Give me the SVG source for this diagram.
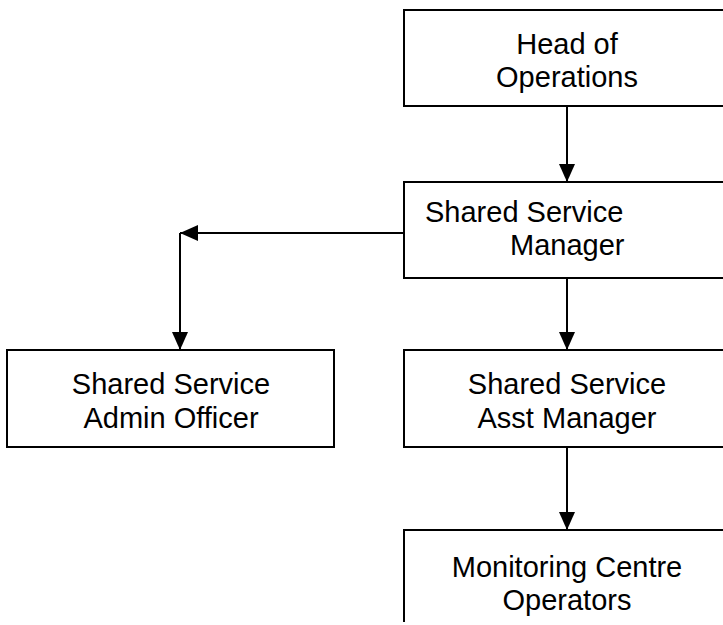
<svg xmlns="http://www.w3.org/2000/svg" width="723" height="625" viewBox="0 0 723 625">
  <style>
    .box { fill: #ffffff; stroke: #000000; stroke-width: 2; }
    .lbl { font-family: "Liberation Sans", Arial, sans-serif; font-size: 29px; fill: #000000; }
    .mid { text-anchor: middle; }
    .wire { fill: none; stroke: #000000; stroke-width: 2; }
  </style>
  <defs>
    <marker id="arrow" viewBox="0 0 18 16" refX="18" refY="8" markerWidth="18" markerHeight="16" markerUnits="userSpaceOnUse" orient="auto">
      <path d="M0,0 L18,8 L0,16 Z" fill="#000000"/>
    </marker>
  </defs>

  <rect width="723" height="625" fill="#ffffff"/>

  <g id="connectors">
    <line class="wire" x1="567" y1="106" x2="567" y2="182" marker-end="url(#arrow)"/>
    <line class="wire" x1="404" y1="233" x2="180" y2="233" marker-end="url(#arrow)"/>
    <line class="wire" x1="180" y1="233" x2="180" y2="350" marker-end="url(#arrow)"/>
    <line class="wire" x1="567" y1="278" x2="567" y2="350" marker-end="url(#arrow)"/>
    <line class="wire" x1="567" y1="447" x2="567" y2="530" marker-end="url(#arrow)"/>
  </g>

  <g id="head-of-operations">
    <rect class="box" x="404" y="10" width="330" height="96"/>
    <text class="lbl mid" x="567" y="54">Head of</text>
    <text class="lbl mid" x="567" y="87">Operations</text>
  </g>

  <g id="shared-service-manager">
    <rect class="box" x="404" y="182" width="330" height="96"/>
    <text class="lbl" x="425" y="222">Shared Service</text>
    <text class="lbl" x="510" y="255">Manager</text>
  </g>

  <g id="shared-service-admin-officer">
    <rect class="box" x="7" y="350" width="327" height="97"/>
    <text class="lbl mid" x="171" y="394">Shared Service</text>
    <text class="lbl mid" x="171" y="428">Admin Officer</text>
  </g>

  <g id="shared-service-asst-manager">
    <rect class="box" x="404" y="350" width="330" height="97"/>
    <text class="lbl mid" x="567" y="394">Shared Service</text>
    <text class="lbl mid" x="567" y="428">Asst Manager</text>
  </g>

  <g id="monitoring-centre-operators">
    <path class="wire" d="M404,622 L404,530 L734,530"/>
    <text class="lbl mid" x="567" y="577">Monitoring Centre</text>
    <text class="lbl mid" x="567" y="610">Operators</text>
  </g>
</svg>
